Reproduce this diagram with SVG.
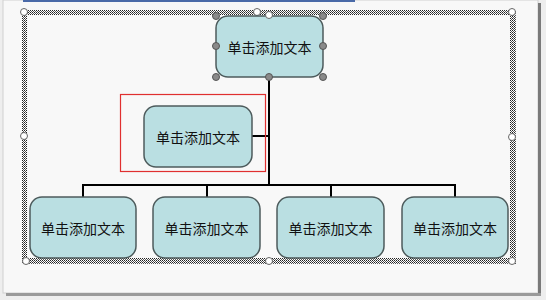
<svg xmlns="http://www.w3.org/2000/svg" width="546" height="300" viewBox="0 0 546 300">
  <style>
    .node rect.box { fill: #badfe2; stroke: #4d5b5c; stroke-width: 1.5; }
    .node text { font-family: "Noto Sans CJK SC", "Liberation Sans", sans-serif; font-size: 14px; fill: #111; text-anchor: middle; dominant-baseline: central; }
    .conn { stroke: #000; stroke-width: 2; fill: none; }
    .h-sel { fill: #fff; stroke: #666; stroke-width: 1; }
    .h-node { fill: #8a8a8a; stroke: #555; stroke-width: 1; }
  </style>
  <defs>
    <pattern id="dots" width="2" height="2" patternUnits="userSpaceOnUse">
      <rect width="2" height="2" fill="#ffffff"/>
      <rect width="1" height="1" fill="#222"/>
      <rect x="1" y="1" width="1" height="1" fill="#555"/>
    </pattern>
  </defs>
  <!-- page background -->
  <rect x="0" y="0" width="546" height="300" fill="#eeeeee"/>
  <rect x="3" y="0" width="535" height="293" fill="#f8f8f8" stroke="#d0d0d0" stroke-width="1"/>
  <rect x="538" y="3" width="3" height="293" fill="#7a7a7a"/>
  <rect x="6" y="293" width="535" height="3" fill="#9a9a9a"/>
  <!-- top blue line -->
  <rect x="23" y="0" width="332" height="2" fill="#4a6aa8"/>
  <!-- selection frame -->
  <path d="M22 10 H516 V264 H22 Z M27 15 V258 H510 V15 Z" fill="url(#dots)" fill-rule="evenodd"/>
  <g id="frame-handles">
    <circle class="h-sel" cx="24" cy="12" r="3.5"/>
    <circle class="h-sel" cx="257" cy="12" r="3.5"/>
    <circle class="h-sel" cx="512" cy="12" r="3.5"/>
    <circle class="h-sel" cx="24" cy="136" r="3.5"/>
    <circle class="h-sel" cx="512" cy="137" r="3.5"/>
    <circle class="h-sel" cx="26" cy="261" r="3.5"/>
    <circle class="h-sel" cx="269" cy="261" r="3.5"/>
    <circle class="h-sel" cx="512" cy="261" r="3.5"/>
  </g>
  <!-- connectors -->
  <g id="connectors">
    <path class="conn" d="M269 77 V185"/>
    <path class="conn" d="M252 136 H269"/>
    <path class="conn" d="M83 197 V185 H455 V197"/>
    <path class="conn" d="M207 185 V197"/>
    <path class="conn" d="M331 185 V197"/>
  </g>
  <!-- red highlight box -->
  <rect x="120.5" y="94.5" width="145" height="77" fill="none" stroke="#e03030" stroke-width="1.2"/>
  <!-- nodes -->
  <g id="node-top" class="node">
    <rect class="box" x="216" y="16" width="107" height="61" rx="12"/>
    <text x="269.5" y="46.5">单击添加文本</text>
    <circle class="h-node" cx="216" cy="16" r="3.5"/>
    <circle class="h-sel" cx="269" cy="15" r="3.5"/>
    <circle class="h-node" cx="323" cy="16" r="3.5"/>
    <circle class="h-node" cx="216" cy="46" r="3.5"/>
    <circle class="h-node" cx="323" cy="46" r="3.5"/>
    <circle class="h-node" cx="216" cy="77" r="3.5"/>
    <circle class="h-node" cx="269" cy="77" r="3.5"/>
    <circle class="h-node" cx="323" cy="77" r="3.5"/>
  </g>
  <g id="node-assistant" class="node">
    <rect class="box" x="144" y="106" width="108" height="61" rx="12"/>
    <text x="198" y="136.5">单击添加文本</text>
  </g>
  <g id="node-1" class="node">
    <rect class="box" x="30" y="197" width="106" height="61" rx="12"/>
    <text x="83" y="228">单击添加文本</text>
  </g>
  <g id="node-2" class="node">
    <rect class="box" x="153" y="197" width="107" height="61" rx="12"/>
    <text x="206.5" y="228">单击添加文本</text>
  </g>
  <g id="node-3" class="node">
    <rect class="box" x="277" y="197" width="107" height="61" rx="12"/>
    <text x="330.5" y="228">单击添加文本</text>
  </g>
  <g id="node-4" class="node">
    <rect class="box" x="402" y="197" width="106" height="61" rx="12"/>
    <text x="455" y="228">单击添加文本</text>
  </g>
</svg>
